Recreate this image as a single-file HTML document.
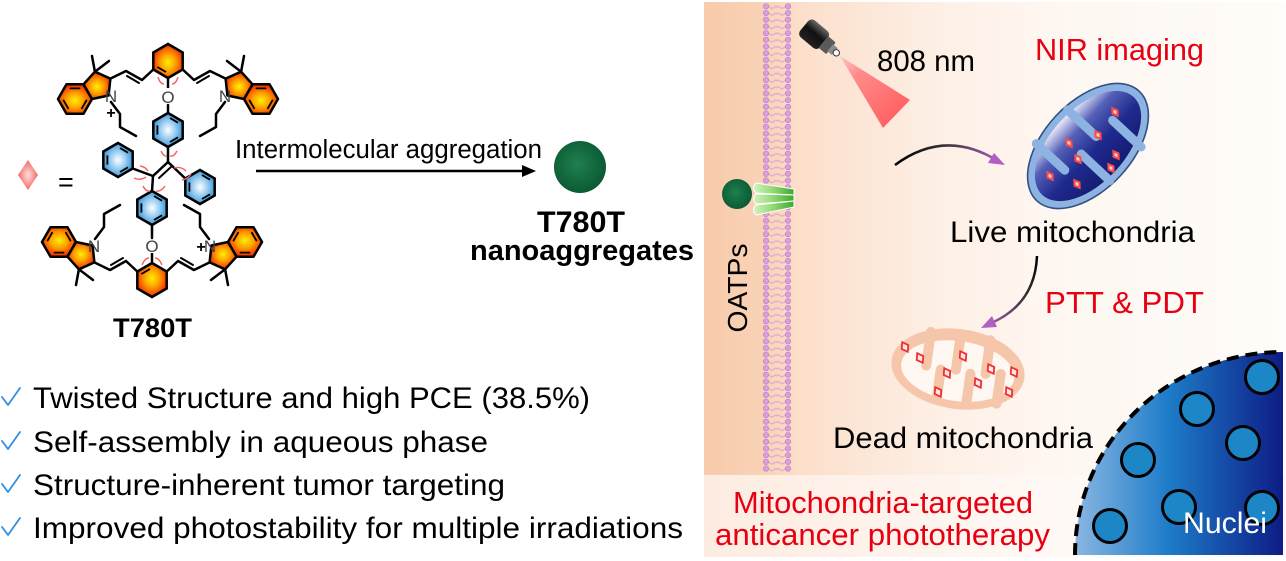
<!DOCTYPE html>
<html>
<head>
<meta charset="utf-8">
<style>
  html,body{margin:0;padding:0;background:#fff;}
  svg{display:block;}
  text{font-family:"Liberation Sans",Arial,sans-serif;}
</style>
</head>
<body>
<svg width="1286" height="561" viewBox="0 0 1286 561" xmlns="http://www.w3.org/2000/svg">
<defs>
  <radialGradient id="og" cx="50%" cy="55%" r="55%">
    <stop offset="0" stop-color="#fff000"/>
    <stop offset="0.45" stop-color="#ffa200"/>
    <stop offset="1" stop-color="#f02a00"/>
  </radialGradient>
  <radialGradient id="bg" cx="50%" cy="50%" r="55%">
    <stop offset="0" stop-color="#ffffff"/>
    <stop offset="0.45" stop-color="#9fd0f2"/>
    <stop offset="1" stop-color="#2e8ed6"/>
  </radialGradient>
  <radialGradient id="diaG" cx="50%" cy="50%" r="55%">
    <stop offset="0" stop-color="#ffe0dc"/>
    <stop offset="1" stop-color="#f05a5a"/>
  </radialGradient>
  <radialGradient id="np" cx="45%" cy="45%" r="55%">
    <stop offset="0" stop-color="#1f8050"/>
    <stop offset="1" stop-color="#0b5a33"/>
  </radialGradient>
  <linearGradient id="panel" x1="704" y1="0" x2="1286" y2="0" gradientUnits="userSpaceOnUse">
    <stop offset="0" stop-color="#f8cbab"/>
    <stop offset="0.1" stop-color="#f9d2b6"/>
    <stop offset="0.17" stop-color="#fcdfcb"/>
    <stop offset="0.4" stop-color="#fdefe5"/>
    <stop offset="0.6" stop-color="#fef7f1"/>
    <stop offset="1" stop-color="#fffcf9"/>
  </linearGradient>
  <linearGradient id="strip" x1="704" y1="0" x2="1090" y2="0" gradientUnits="userSpaceOnUse">
    <stop offset="0" stop-color="#fdece1"/>
    <stop offset="1" stop-color="#fffaf7"/>
  </linearGradient>
  <linearGradient id="nuc" x1="1075" y1="0" x2="1283" y2="0" gradientUnits="userSpaceOnUse">
    <stop offset="0" stop-color="#8ab6e2"/>
    <stop offset="0.45" stop-color="#1d7cc8"/>
    <stop offset="1" stop-color="#0e1c86"/>
  </linearGradient>
  <linearGradient id="cone" x1="842" y1="58" x2="896" y2="114" gradientUnits="userSpaceOnUse">
    <stop offset="0" stop-color="#ffc0c0"/>
    <stop offset="0.3" stop-color="#ff8a8a"/>
    <stop offset="1" stop-color="#ff6464"/>
  </linearGradient>
  <linearGradient id="laser" x1="0" y1="-11" x2="0" y2="11" gradientUnits="userSpaceOnUse">
    <stop offset="0" stop-color="#666"/>
    <stop offset="0.45" stop-color="#111"/>
    <stop offset="1" stop-color="#222"/>
  </linearGradient>
  <linearGradient id="arr1" x1="895" y1="0" x2="1003" y2="0" gradientUnits="userSpaceOnUse">
    <stop offset="0" stop-color="#000"/>
    <stop offset="0.45" stop-color="#333"/>
    <stop offset="1" stop-color="#b060c0"/>
  </linearGradient>
  <linearGradient id="arr2" x1="1037" y1="256" x2="983" y2="327" gradientUnits="userSpaceOnUse">
    <stop offset="0" stop-color="#000"/>
    <stop offset="0.45" stop-color="#333"/>
    <stop offset="1" stop-color="#b060c0"/>
  </linearGradient>
  <linearGradient id="tube" x1="752" y1="0" x2="795" y2="0" gradientUnits="userSpaceOnUse">
    <stop offset="0" stop-color="#d8f5c8"/>
    <stop offset="0.5" stop-color="#8fd870"/>
    <stop offset="1" stop-color="#35a82a"/>
  </linearGradient>
  <linearGradient id="crist" x1="0" y1="-36" x2="0" y2="36" gradientUnits="userSpaceOnUse">
    <stop offset="0" stop-color="#e2e2f6"/>
    <stop offset="0.25" stop-color="#5560b8"/>
    <stop offset="0.6" stop-color="#1f2a8e"/>
    <stop offset="1" stop-color="#141c72"/>
  </linearGradient>

  <pattern id="mem" x="763" y="3" width="28" height="6.7" patternUnits="userSpaceOnUse">
    <path d="M5,3.3 l4,2.2 l4,-2.2 l1,1" stroke="#e2a9d2" stroke-width="1.2" fill="none"/>
    <path d="M23,3.3 l-4,2.2 l-4,-2.2 l-1,1" stroke="#e2a9d2" stroke-width="1.2" fill="none"/>
    <circle cx="3" cy="3.3" r="2.7" fill="#dc9ede" stroke="#b57cbf" stroke-width="0.6"/>
    <circle cx="25" cy="3.3" r="2.7" fill="#dc9ede" stroke="#b57cbf" stroke-width="0.6"/>
  </pattern>

  <g id="hp">
    <polygon points="0,-17 14.7,-8.5 14.7,8.5 0,17 -14.7,8.5 -14.7,-8.5"/>
    <path d="M2,-12 L10,-7.3 M10,7.3 L2,12 M-10.6,-4.6 L-10.6,4.6" fill="none" stroke-width="1.8"/>
  </g>
  <g id="hf">
    <polygon points="17,0 8.5,14.7 -8.5,14.7 -17,0 -8.5,-14.7 8.5,-14.7"/>
    <path d="M11.4,1.4 L6.9,9.2 M-6.9,9.2 L-11.4,1.4 M-4.5,-10.6 L4.5,-10.6" fill="none" stroke-width="1.8"/>
  </g>
  <g id="hc">
    <polygon points="0,-17 14.7,-8.5 14.7,8.5 0,17 -14.7,8.5 -14.7,-8.5"/>
    <path d="M-10.6,6 L-2,11" fill="none" stroke-width="1.8"/>
  </g>

  <g id="side" stroke="#000" stroke-width="2.5" stroke-linejoin="round" stroke-linecap="round">
    <polyline points="110.4,78.6 126,71 142,80 153.3,69.5" fill="none"/>
    <line x1="127" y1="76" x2="139" y2="83" stroke-width="2"/>
    <polyline points="111,102 120,114 120,127 136,136" fill="none"/>
    <line x1="94.9" y1="71.7" x2="92" y2="56"/>
    <line x1="94.9" y1="71.7" x2="109" y2="61"/>
    <use href="#hf" x="75" y="99" fill="url(#og)"/>
    <polygon points="83.5,84.3 94.9,71.7 110.4,78.6 108.6,95.5 92,99" fill="url(#og)"/>
  </g>

  <g id="half">
    <use href="#side"/>
    <use href="#side" transform="translate(336,0) scale(-1,1)"/>
    <line x1="168" y1="78" x2="168" y2="88" stroke="#000" stroke-width="2.5"/>
    <use href="#hc" x="168" y="61" fill="url(#og)" stroke="#000" stroke-width="2.5"/>
  </g>

  <g id="dia">
    <polygon points="0,-6.5 4.2,0 0,6.5 -4.2,0" fill="#ff4a4a"/>
    <polygon points="0,-2.6 1.7,0 0,2.6 -1.7,0" fill="#ffd6d6"/>
  </g>
  <g id="dia2">
    <polygon points="0,-5.5 3.8,0 0,5.5 -3.8,0" fill="#ffe6e6" stroke="#f03030" stroke-width="1.8"/>
  </g>
</defs>

<!-- ===================== LEFT: molecule ===================== -->
<g>
  <use href="#half"/>
  <use href="#half" transform="translate(-16,341) scale(1,-1)"/>

  <g stroke="#000" stroke-width="2.5" stroke-linecap="round" fill="none">
    <line x1="168" y1="105" x2="168" y2="113"/>
    <line x1="168" y1="147" x2="168" y2="162"/>
    <line x1="168" y1="162" x2="153" y2="176"/>
    <line x1="171" y1="167" x2="159" y2="178" stroke-width="2"/>
    <line x1="168" y1="162" x2="185.3" y2="178.5"/>
    <line x1="153" y1="176" x2="132.7" y2="168.5"/>
    <line x1="153" y1="176" x2="152" y2="191"/>
    <line x1="152" y1="225" x2="152" y2="238"/>
  </g>
  <use href="#hp" x="168" y="130" fill="url(#bg)" stroke="#000" stroke-width="2.5"/>
  <use href="#hp" x="118" y="160" fill="url(#bg)" stroke="#000" stroke-width="2.5"/>
  <use href="#hp" x="200" y="187" fill="url(#bg)" stroke="#000" stroke-width="2.5"/>
  <use href="#hp" x="152" y="208" fill="url(#bg)" stroke="#000" stroke-width="2.5"/>

  <g stroke="#f26262" stroke-width="1.4" fill="none">
    <path d="M158,77 Q160,84 164,84"/><path d="M178,77 Q176,84 172,84"/>
    <path d="M161,151 Q164,157 167,156"/><path d="M177,151 Q174,157 170,156"/>
    <path d="M134,178 Q140,181 146,177"/><path d="M140,166 Q146,167 148,171"/>
    <path d="M174,168 Q181,166 186,171"/><path d="M182,180 Q188,179 191,174"/>
    <path d="M143,186 Q146,192 150,191"/><path d="M165,186 Q161,192 156,191"/>
    <path d="M142,265 Q145,258 149,258"/><path d="M162,265 Q159,258 155,258"/>
  </g>

  <g font-size="17" fill="#444" text-anchor="middle">
    <text x="168" y="103">O</text>
    <text x="152" y="252">O</text>
    <text x="111" y="102">N</text>
    <text x="225" y="102">N</text>
    <text x="94" y="252">N</text>
    <text x="210" y="252">N</text>
  </g>
  <g font-size="16" font-weight="bold" fill="#000" text-anchor="middle">
    <text x="111" y="118">+</text>
    <text x="201" y="252">+</text>
  </g>

  <text x="113" y="337" font-size="27" font-weight="bold" textLength="79" lengthAdjust="spacingAndGlyphs">T780T</text>

  <polygon points="28,160 38,175 28,190 18,175" fill="url(#diaG)"/>
  <text x="58" y="191" font-size="27" fill="#000">=</text>
</g>

<text x="235" y="158" font-size="25.5" textLength="307" lengthAdjust="spacingAndGlyphs">Intermolecular aggregation</text>
<line x1="256" y1="171" x2="524" y2="171" stroke="#000" stroke-width="2.5"/>
<polygon points="536,171 522,165 522,177" fill="#000"/>
<circle cx="580" cy="167" r="26" fill="url(#np)"/>
<text x="537" y="232" font-size="30" font-weight="bold" textLength="88" lengthAdjust="spacingAndGlyphs">T780T</text>
<text x="470" y="260" font-size="29" font-weight="bold" textLength="224" lengthAdjust="spacingAndGlyphs">nanoaggregates</text>

<g stroke="#2f8fe0" stroke-width="1.8" fill="none" stroke-linecap="round" stroke-linejoin="round">
  <path d="M2,397 L8,405 L20,388"/>
  <path d="M2,441 L8,449 L20,432"/>
  <path d="M2,484 L8,492 L20,475"/>
  <path d="M2,527 L8,535 L20,518"/>
</g>
<g font-size="30" fill="#000">
  <text x="33" y="408" textLength="557" lengthAdjust="spacingAndGlyphs">Twisted Structure and high PCE (38.5%)</text>
  <text x="33" y="452" textLength="455" lengthAdjust="spacingAndGlyphs">Self-assembly in aqueous phase</text>
  <text x="33" y="495" textLength="472" lengthAdjust="spacingAndGlyphs">Structure-inherent tumor targeting</text>
  <text x="33" y="538" textLength="650" lengthAdjust="spacingAndGlyphs">Improved photostability for multiple irradiations</text>
</g>

<!-- ===================== RIGHT PANEL ===================== -->
<rect x="704" y="2" width="582" height="473" fill="url(#panel)"/>
<rect x="704" y="475" width="582" height="82" fill="url(#strip)"/>

<rect x="763" y="3" width="28" height="469" fill="url(#mem)"/>

<circle cx="737" cy="194" r="15" fill="url(#np)"/>
<g fill="url(#tube)" stroke="#ffffff" stroke-width="1" stroke-linejoin="round">
  <path d="M756,183 L794,189 L794,195 L756,193 Q751,188 756,183 Z"/>
  <path d="M756,194 L794,195 L794,201 L756,204 Q751,199 756,194 Z"/>
  <path d="M756,205 L794,201 L794,207 L756,215 Q751,210 756,205 Z"/>
</g>

<text transform="translate(737,288) rotate(-90)" x="0" y="10" font-size="28" text-anchor="middle" textLength="89" lengthAdjust="spacingAndGlyphs">OATPs</text>

<!-- laser -->
<polygon points="840,56 883,128 910,100" fill="url(#cone)"/>
<g transform="translate(821,40) rotate(40)">
  <rect x="-22" y="-11" width="26" height="22" rx="5" fill="url(#laser)"/>
  <rect x="3" y="-7.5" width="10" height="15" rx="1.5" fill="#5a5a5a"/>
  <rect x="12" y="-4.5" width="6" height="9" fill="#8a8a8a"/>
  <circle cx="20" cy="0" r="3.2" fill="#fff" stroke="#333" stroke-width="1"/>
</g>
<text x="877" y="71" font-size="30" textLength="98" lengthAdjust="spacingAndGlyphs">808 nm</text>
<text x="1035" y="60" font-size="31" fill="#e60012" textLength="169" lengthAdjust="spacingAndGlyphs">NIR imaging</text>

<path d="M895,165 Q945,128 998,161" stroke="url(#arr1)" stroke-width="2.5" fill="none"/>
<polygon points="1005,165 988,163 994,153" fill="#b060c0"/>

<!-- live mitochondria -->
<g transform="translate(1088,146) rotate(-47)">
  <ellipse cx="0" cy="0" rx="75" ry="44" fill="#8db3e2" stroke="#34507f" stroke-width="1.6"/>
  <ellipse cx="0" cy="0" rx="67" ry="37" fill="url(#crist)"/>
  <rect x="-38" y="-44" width="9" height="48" rx="4.5" fill="#8db3e2"/>
  <rect x="8" y="-44" width="9" height="48" rx="4.5" fill="#8db3e2"/>
  <rect x="-15" y="-4" width="9" height="48" rx="4.5" fill="#8db3e2"/>
  <rect x="31" y="-4" width="9" height="48" rx="4.5" fill="#8db3e2"/>
</g>
<use href="#dia" transform="translate(1115,112) rotate(-35)"/>
<use href="#dia" transform="translate(1098,135) rotate(-35)"/>
<use href="#dia" transform="translate(1069,143) rotate(-35)"/>
<use href="#dia" transform="translate(1078,159) rotate(-35)"/>
<use href="#dia" transform="translate(1116,155) rotate(-35)"/>
<use href="#dia" transform="translate(1111,168) rotate(-35)"/>
<use href="#dia" transform="translate(1050,176) rotate(-35)"/>
<use href="#dia" transform="translate(1077,184) rotate(-35)"/>

<text x="950" y="242" font-size="30" textLength="245" lengthAdjust="spacingAndGlyphs">Live mitochondria</text>

<path d="M1037,256 Q1035,305 989,324" stroke="url(#arr2)" stroke-width="2.5" fill="none"/>
<polygon points="981,328 992,316 997,327" fill="#b060c0"/>
<text x="1045" y="313" font-size="31" fill="#e60012" textLength="159" lengthAdjust="spacingAndGlyphs">PTT &amp; PDT</text>

<!-- dead mitochondria -->
<g transform="translate(958,369) rotate(8)">
  <ellipse cx="0" cy="0" rx="67" ry="40" fill="#f6c6ab"/>
  <ellipse cx="0" cy="2" rx="57" ry="30" fill="#fff7f2"/>
  <rect x="-37" y="-38" width="10" height="44" rx="5" fill="#f6c6ab"/>
  <rect x="-7" y="-38" width="10" height="44" rx="5" fill="#f6c6ab"/>
  <rect x="23" y="-38" width="10" height="44" rx="5" fill="#f6c6ab"/>
  <rect x="-22" y="-2" width="10" height="40" rx="5" fill="#f6c6ab"/>
  <rect x="8" y="-2" width="10" height="40" rx="5" fill="#f6c6ab"/>
  <rect x="38" y="-6" width="10" height="40" rx="5" fill="#f6c6ab"/>
</g>
<use href="#dia2" transform="translate(905,347) rotate(-30)"/>
<use href="#dia2" transform="translate(920,358) rotate(-30)"/>
<use href="#dia2" transform="translate(963,356) rotate(-30)"/>
<use href="#dia2" transform="translate(947,373) rotate(-30)"/>
<use href="#dia2" transform="translate(991,369) rotate(-30)"/>
<use href="#dia2" transform="translate(978,383) rotate(-30)"/>
<use href="#dia2" transform="translate(1014,372) rotate(-30)"/>
<use href="#dia2" transform="translate(1009,392) rotate(-30)"/>
<use href="#dia2" transform="translate(938,392) rotate(-30)"/>

<text x="833" y="448" font-size="30" textLength="260" lengthAdjust="spacingAndGlyphs">Dead mitochondria</text>

<text x="733" y="513" font-size="31" fill="#e60012" textLength="300" lengthAdjust="spacingAndGlyphs">Mitochondria-targeted</text>
<text x="715" y="545" font-size="31" fill="#e60012" textLength="335" lengthAdjust="spacingAndGlyphs">anticancer phototherapy</text>

<!-- nucleus -->
<path d="M1075,555 A208,203 0 0 1 1283,352 L1283,555 Z" fill="url(#nuc)"/>
<g fill="#1c86c6" stroke="#000" stroke-width="3">
  <circle cx="1262" cy="377" r="16.5"/>
  <circle cx="1197" cy="409" r="16.5"/>
  <circle cx="1243" cy="443" r="16.5"/>
  <circle cx="1138" cy="460" r="16.5"/>
  <circle cx="1179" cy="507" r="16.5"/>
  <circle cx="1262" cy="508" r="16.5"/>
  <circle cx="1110" cy="526" r="16.5"/>
</g>
<path d="M1075,555 A208,203 0 0 1 1283,352" fill="none" stroke="#000" stroke-width="4" stroke-dasharray="12 7"/>
<text x="1183" y="533" font-size="30" fill="#ffffff" textLength="84" lengthAdjust="spacingAndGlyphs">Nuclei</text>
</svg>
</body>
</html>
